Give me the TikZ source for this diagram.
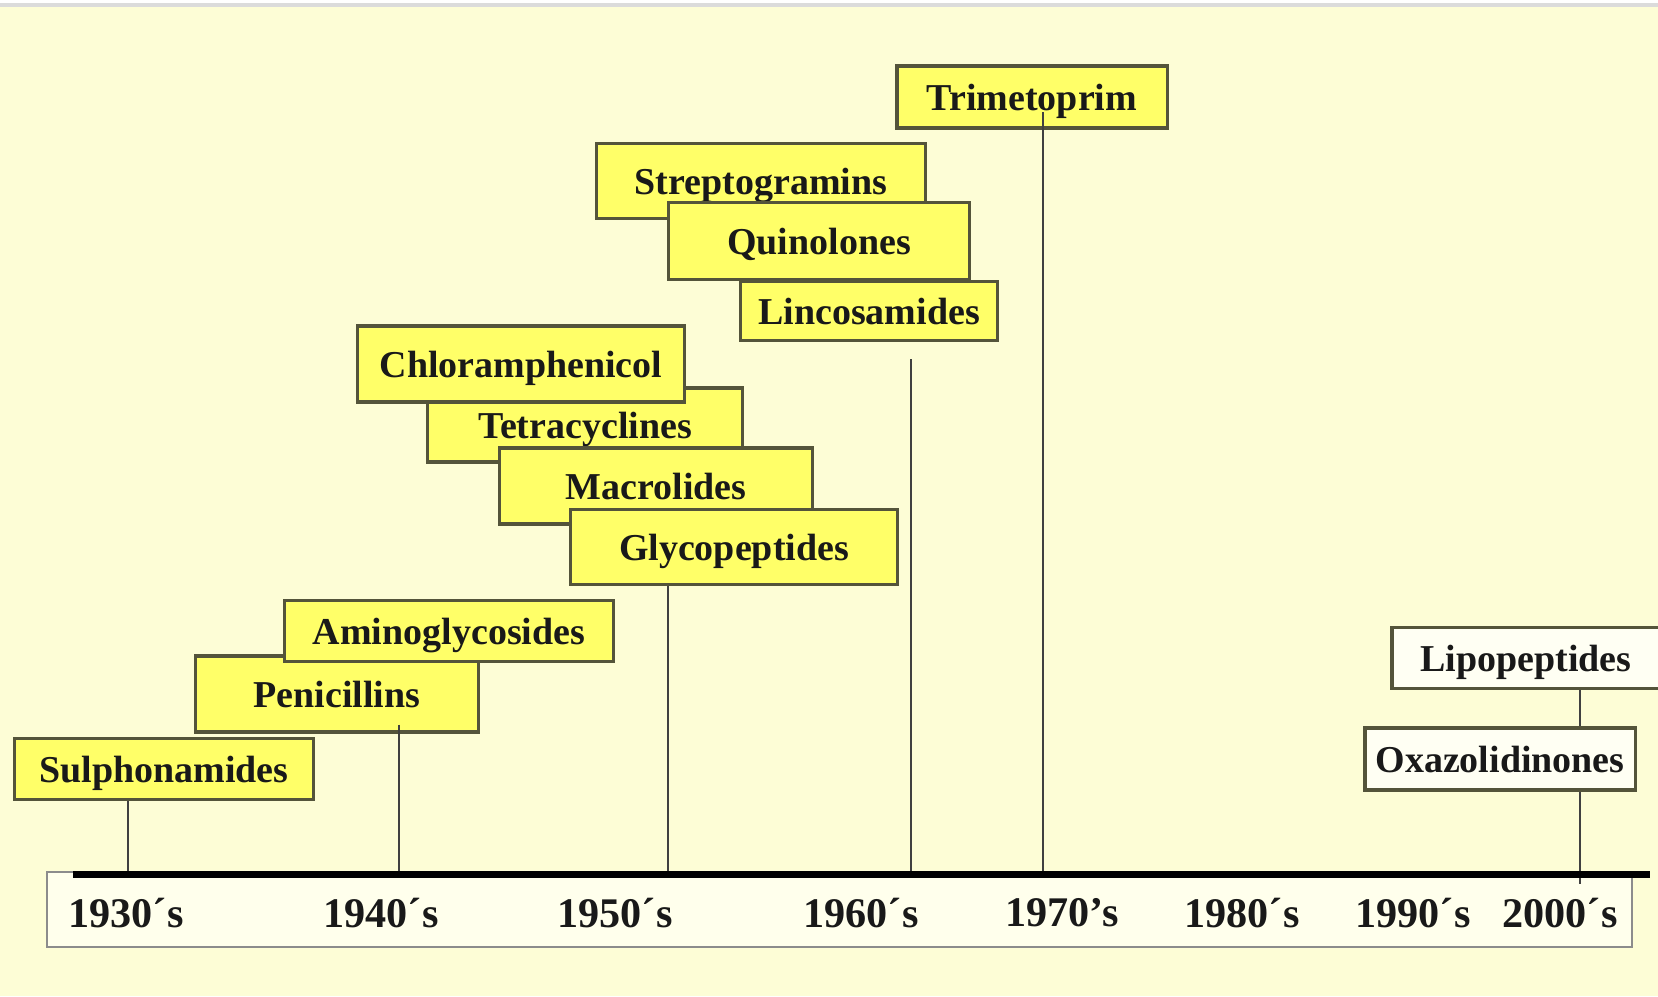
\documentclass[tikz,border=0pt]{standalone}
\usepackage{xcolor}
\usepackage{fontspec}
\setmainfont{Liberation Serif}
\usetikzlibrary{calc}

\definecolor{paper}{RGB}{253,253,214}
\definecolor{drug}{RGB}{255,255,104}
\definecolor{newdrug}{RGB}{255,255,243}
\definecolor{rim}{RGB}{84,84,58}
\definecolor{band}{RGB}{255,255,236}

\begin{document}
\begin{tikzpicture}[
                    x = 0.01cm, % one pixel of the picture
                    y = -0.01cm, % rows grow downwards
                    semithick % line style
            ]

            \tikzstyle{every node}=[
                font = \bfseries\fontsize{10.8}{13}\selectfont,
                text = black!90
            ]
            \tikzstyle{class}=[
                draw = rim,
                line width = 0.9pt,
                fill = drug,
                inner sep = 0pt,
                text depth = 0pt
            ]
            \tikzstyle{recent}=[class, fill = newdrug]
            \tikzstyle{decade}=[font = \bfseries\fontsize{12}{14}\selectfont]
            \tikzstyle{stem}=[draw = black!75, line width = 0.6pt]

            % paper and frame
            \fill[paper] (0,0) rectangle (1658,996);
            \fill[white] (0,0) rectangle (1658,3);
            \fill[black!14] (0,3) rectangle (1658,7);
            \useasboundingbox (0,0) rectangle (1658,996);
            \draw[draw = black!45, line width = 0.7pt, fill = band] (47,872) rectangle (1632,947);

            % drug classes, later ones on top
            \node[class, minimum width = 2.99cm, minimum height = 0.61cm] (Sulph) at (164,769) {Sulphonamides};
            \node[class, minimum width = 2.83cm, minimum height = 0.76cm] (Penic) at (337,694) {Penicillins};
            \node[class, minimum width = 3.28cm, minimum height = 0.61cm] (Amino) at (449,631) {Aminoglycosides};
            \node[class, minimum width = 3.14cm, minimum height = 0.74cm] (Tetra) at (585,425) {Tetracyclines};
            \node[class, minimum width = 3.27cm, minimum height = 0.76cm] (Chlor) at (521,364) {Chloramphenicol};
            \node[class, minimum width = 3.13cm, minimum height = 0.76cm] (Macro) at (656,486) {Macrolides};
            \node[class, minimum width = 3.27cm, minimum height = 0.75cm] (Glyco) at (734,547) {Glycopeptides};
            \node[class, minimum width = 3.28cm, minimum height = 0.75cm] (Strep) at (761,181) {Streptogramins};
            \node[class, minimum width = 3.01cm, minimum height = 0.77cm] (Quino) at (819,241) {Quinolones};
            \node[class, minimum width = 2.57cm, minimum height = 0.59cm] (Linco) at (869,311) {Lincosamides};
            \node[class, minimum width = 2.70cm, minimum height = 0.62cm] (Trim) at (1032,97) {Trimetoprim};
            \node[recent, minimum width = 2.68cm, minimum height = 0.61cm] (Lipo) at (1526,658) {Lipopeptides};
            \node[recent, minimum width = 2.70cm, minimum height = 0.62cm] (Oxa) at (1500,759) {Oxazolidinones};

            % decades
            \node[decade] (Y30) at (126,913) {1930´s};
            \node[decade] (Y40) at (381,913) {1940´s};
            \node[decade] (Y50) at (615,913) {1950´s};
            \node[decade] (Y60) at (861,913) {1960´s};
            \node[decade] (Y70) at (1062,913) {1970’s};
            \node[decade] (Y80) at (1242,913) {1980´s};
            \node[decade] (Y90) at (1413,913) {1990´s};
            \node[decade] (Y00) at (1560,913) {2000´s};

            % where the stems meet the axis
            \coordinate (A30) at (128,874);
            \coordinate (A40) at (399,874);
            \coordinate (A50) at (668,874);
            \coordinate (A60) at (911,874);
            \coordinate (A70) at (1043,874);
            \coordinate (A00) at (1580,884);

            \draw[stem] (A30 |- Sulph.south) -- (A30);
            \draw[stem] ($(A40 |- Penic.south)+(0,-9)$) -- (A40);
            \draw[stem] (A50 |- Glyco.south) -- (A50);
            \draw[stem] ($(A60 |- Linco.south)+(0,17)$) -- (A60);
            \draw[stem] ($(A70 |- Trim.center)+(0,15)$) -- (A70);
            \draw[stem] (A00 |- Lipo.south) -- (A00 |- Oxa.north);
            \draw[stem] (A00 |- Oxa.south) -- (A00);

            % time axis
            \draw[line width = 2pt] (73,874) -- (1650,874);
        \end{tikzpicture}
\end{document}
